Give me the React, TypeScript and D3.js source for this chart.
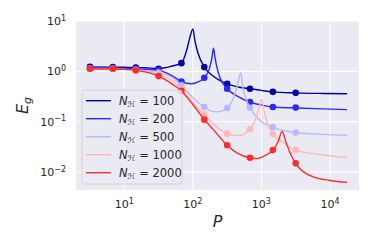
import React, { useRef, useEffect } from 'react';
import * as d3 from 'd3';

const W = 374;
const H = 249;
const margin = { left: 76, right: 15, top: 21, bottom: 59 };

// sample sizes where the simulations were run
const sampleP = [3.16, 6.81, 14.7, 31.6, 68.1, 146.8, 316.2, 681.3, 1468, 3162];

const seriesNames = ['100', '200', '500', '1000', '2000'];
const seriesColors = ['#0000a8', '#2a2aff', '#b8b8ff', '#ffb8b8', '#ff2a2a'];

// simulated generalisation error (dots)
const sim100 = [1.23, 1.22, 1.2, 1.13, 1.46, 1.22, 0.565, 0.454, 0.393, 0.375];
const sim200 = [1.15, 1.15, 1.12, 1.05, 0.63, 0.75, 0.454, 0.247, 0.196, 0.191];
const sim500 = [1.13, 1.13, 1.08, 0.95, 0.53, 0.196, 0.188, 0.19, 0.078, 0.061];
const sim1000 = [1.13, 1.13, 1.06, 0.88, 0.45, 0.141, 0.058, 0.071, 0.057, 0.0273];
const sim2000 = [1.13, 1.13, 1.05, 0.807, 0.41, 0.11, 0.0342, 0.0192, 0.0273, 0.0149];

// theory curves, [P, Eg]
const theory100: [number, number][] = [
  [3.16, 1.23], [10, 1.21], [20, 1.18], [31.6, 1.14], [50, 1.28], [68.1, 1.46], [81, 2.6],
  [90, 4.6], [100, 7.0], [107, 4.1], [119, 2.3], [147, 1.22], [200, 0.8], [316, 0.565],
  [500, 0.48], [681, 0.454], [1000, 0.42], [1468, 0.393], [3162, 0.375], [8000, 0.365], [17800, 0.36],
];
const theory200: [number, number][] = [
  [3.16, 1.15], [10, 1.14], [20, 1.1], [31.6, 1.05], [50, 0.82], [68.1, 0.63], [95, 0.57],
  [120, 0.62], [147, 0.75], [175, 1.15], [190, 1.9], [200, 2.9], [210, 1.9], [230, 1.05],
  [260, 0.65], [316, 0.454], [450, 0.32], [681, 0.247], [1000, 0.215], [1468, 0.196],
  [3162, 0.188], [8000, 0.18], [17800, 0.174],
];
const theory500: [number, number][] = [
  [3.16, 1.13], [10, 1.1], [20, 1.03], [31.6, 0.95], [50, 0.75], [68.1, 0.53], [100, 0.3],
  [147, 0.196], [180, 0.165], [220, 0.157], [270, 0.165], [316, 0.188], [380, 0.27], [440, 0.5],
  [500, 0.93], [540, 0.45], [600, 0.28], [681, 0.19], [944, 0.107], [1468, 0.077],
  [3162, 0.061], [8000, 0.056], [17800, 0.054],
];
const theory1000: [number, number][] = [
  [3.16, 1.13], [10, 1.1], [20, 1.0], [31.6, 0.88], [50, 0.65], [68.1, 0.45], [100, 0.24],
  [147, 0.141], [200, 0.09], [316, 0.058], [450, 0.053], [681, 0.071], [846, 0.124],
  [950, 0.22], [1000, 0.28], [1100, 0.16], [1250, 0.085], [1468, 0.057], [2000, 0.04],
  [3162, 0.0273], [7000, 0.0224], [17800, 0.0195],
];
const theory2000: [number, number][] = [
  [3.16, 1.13], [10, 1.1], [20, 0.98], [31.6, 0.807], [50, 0.56], [68.1, 0.41], [100, 0.22],
  [147, 0.11], [200, 0.069], [316, 0.0342], [450, 0.0235], [681, 0.0192], [850, 0.0185],
  [1100, 0.021], [1468, 0.0273], [1750, 0.04], [2000, 0.064], [2300, 0.038], [2700, 0.022],
  [3162, 0.0149], [5600, 0.0081], [10000, 0.0068], [17800, 0.00625],
];

const simSeries = [sim100, sim200, sim500, sim1000, sim2000];
const theorySeries = [theory100, theory200, theory500, theory1000, theory2000];

const xTicks = [10, 100, 1000, 10000];
const yTicks = [0.01, 0.1, 1, 10];

const FONT = 'DejaVu Sans, sans-serif';

function App() {
  const ref = useRef<SVGSVGElement>(null);

  useEffect(() => {
    const svg = d3.select(ref.current);
    svg.selectAll('*').remove();

    const x0 = margin.left, x1 = W - margin.right;
    const y0 = margin.top, y1 = H - margin.bottom;

    const x = d3.scaleLog().domain([1.975, 26500]).range([x0, x1]);
    const y = d3.scaleLog().domain([0.0044, 10.05]).range([y1, y0]);

    // axes background + grid
    svg.append('rect')
      .attr('x', x0).attr('y', y0)
      .attr('width', x1 - x0).attr('height', y1 - y0)
      .attr('fill', '#eaeaf2');

    svg.append('g').selectAll('line').data(xTicks).join('line')
      .attr('x1', d => x(d)).attr('x2', d => x(d))
      .attr('y1', y0).attr('y2', y1)
      .attr('stroke', '#fff').attr('stroke-width', 1);
    svg.append('g').selectAll('line').data(yTicks).join('line')
      .attr('x1', x0).attr('x2', x1)
      .attr('y1', d => y(d)).attr('y2', d => y(d))
      .attr('stroke', '#fff').attr('stroke-width', 1);

    // tick labels
    const sup = (d: number) => String(Math.round(Math.log10(d))).replace('-', '\u2212');
    const xl = svg.append('g').selectAll('text').data(xTicks).join('text')
      .attr('x', d => x(d)).attr('y', 208)
      .attr('text-anchor', 'middle')
      .attr('font-family', FONT).attr('font-size', 11).attr('fill', '#262626');
    xl.append('tspan').text('10');
    xl.append('tspan').attr('dy', -4.5).attr('font-size', 8).text(d => sup(d));

    const yl = svg.append('g').selectAll('text').data(yTicks).join('text')
      .attr('x', 66).attr('y', d => y(d) + 4)
      .attr('text-anchor', 'end')
      .attr('font-family', FONT).attr('font-size', 11).attr('fill', '#262626');
    yl.append('tspan').text('10');
    yl.append('tspan').attr('dy', -4.5).attr('font-size', 8).text(d => sup(d));

    // axis labels
    svg.append('text')
      .attr('x', (x0 + x1) / 2).attr('y', 227)
      .attr('text-anchor', 'middle')
      .attr('font-family', FONT).attr('font-size', 16).attr('font-style', 'italic')
      .attr('fill', '#262626')
      .text('P');

    const ylab = svg.append('text')
      .attr('transform', `translate(28, ${(y0 + y1) / 2}) rotate(-90)`)
      .attr('text-anchor', 'middle')
      .attr('font-family', FONT).attr('font-size', 16).attr('font-style', 'italic')
      .attr('fill', '#262626');
    ylab.append('tspan').text('E');
    ylab.append('tspan').attr('dy', 3).attr('font-size', 11).text('g');

    // curves and dots
    const line = d3.line<[number, number]>()
      .x(d => x(d[0]))
      .y(d => y(d[1]))
      .curve(d3.curveMonotoneX);

    const plot = svg.append('g');
    theorySeries.forEach((pts, i) => {
      plot.append('path')
        .attr('d', line(pts))
        .attr('fill', 'none')
        .attr('stroke', seriesColors[i])
        .attr('stroke-width', 1.4);
      plot.append('g').selectAll('circle').data(simSeries[i]).join('circle')
        .attr('cx', (_, j) => x(sampleP[j]))
        .attr('cy', d => y(d))
        .attr('r', 3.3)
        .attr('fill', seriesColors[i]);
    });

    // legend
    const lg = svg.append('g');
    lg.append('rect')
      .attr('x', 82).attr('y', 90)
      .attr('width', 100).attr('height', 94)
      .attr('rx', 2.5)
      .attr('fill', '#eaeaf2').attr('fill-opacity', 0.8)
      .attr('stroke', '#cccccc').attr('stroke-width', 0.8);

    const rows = lg.selectAll('g.row').data(seriesNames).join('g')
      .attr('class', 'row')
      .attr('transform', (_, i) => `translate(0, ${100.7 + i * 18})`);
    rows.append('line')
      .attr('x1', 86).attr('x2', 111)
      .attr('stroke', (_, i) => seriesColors[i])
      .attr('stroke-width', 1.4);
    const lt = rows.append('text')
      .attr('x', 119).attr('y', 4)
      .attr('font-family', FONT).attr('font-size', 11.5).attr('fill', '#262626');
    lt.append('tspan').attr('font-style', 'italic').text('N');
    lt.append('tspan').attr('dy', 2.5).attr('font-size', 8).attr('font-style', 'italic').text('\u210B');
    lt.append('tspan').attr('dy', -2.5).text(d => ` = ${d}`);
  }, []);

  return (
    <svg ref={ref} width={W} height={H}
      style={{ position: 'absolute', left: 0, top: 0, background: '#fff' }} />
  );
}

export default App;
